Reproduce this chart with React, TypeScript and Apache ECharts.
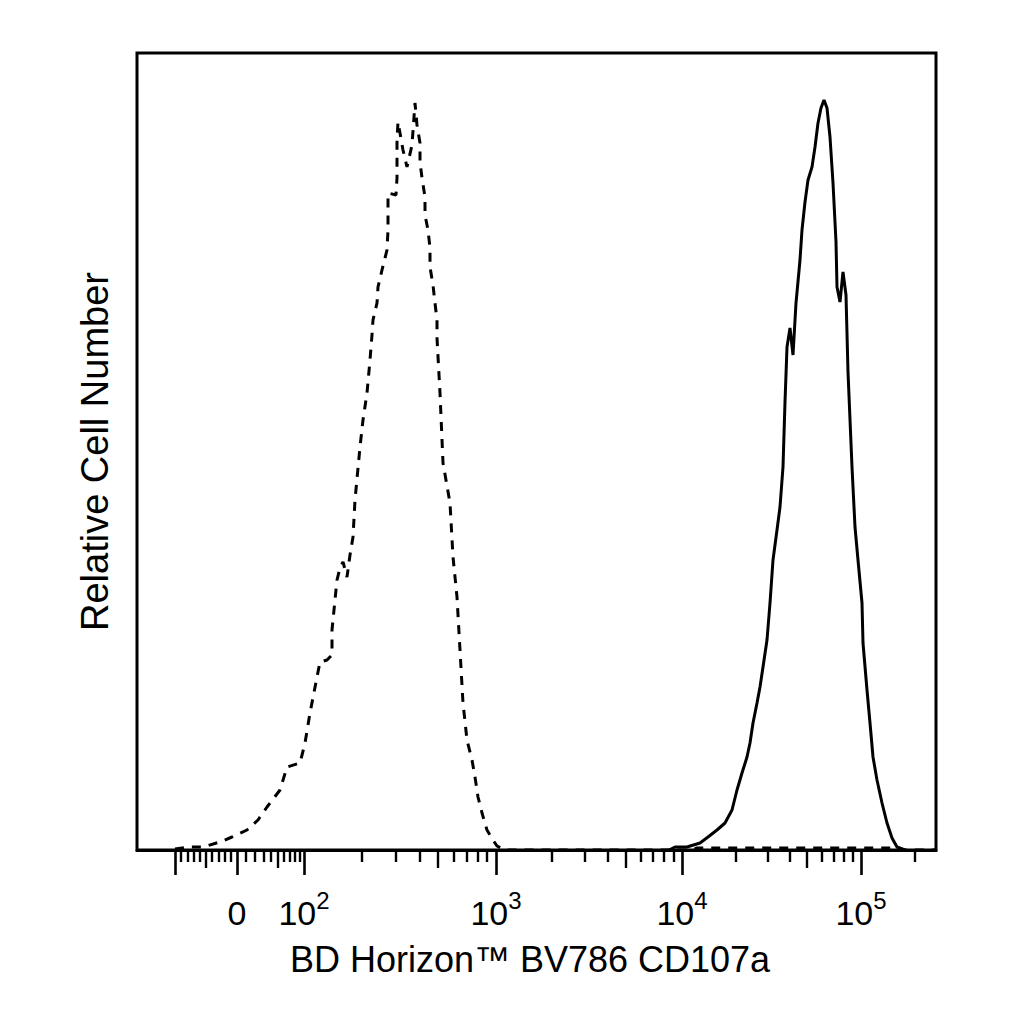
import * as echarts from 'echarts';
import React, { useEffect, useRef } from 'react';

const FONT = '"Liberation Sans", Arial, Helvetica, sans-serif';

// display channel (0..799) of the biexponential axis
const dashedChannel = [
  38, 53, 66, 83, 95, 110, 121, 130, 143, 150, 163, 168, 173, 180, 183, 190, 195, 195, 198, 200,
  203, 206, 210, 213, 216, 218, 223, 226, 230, 233, 235, 236, 240, 241, 245, 250, 251, 251, 251,
  259, 260, 260, 260, 261, 266, 270, 275, 278, 280, 283, 283, 285, 288, 288, 291, 293, 293, 296,
  298, 300, 300, 303, 306, 313, 316, 320, 323, 326, 330, 335, 338, 341, 345, 350, 356, 360, 368,
  555, 560, 761, 766, 799,
];
const dashedCount = [
  1, 3, 3, 8, 13, 20, 30, 43, 60, 83, 87, 107, 137, 173, 188, 190, 195, 220, 250, 270,
  282, 288, 273, 295, 313, 350, 403, 430, 457, 490, 515, 530, 547, 563, 580, 600, 620, 640, 657,
  655, 672, 692, 710, 728, 700, 683, 705, 747, 725, 707, 688, 672, 653, 635, 620, 602, 583, 565,
  547, 530, 512, 457, 387, 347, 293, 253, 200, 147, 110, 90, 73, 53, 37, 20, 10, 4, 0,
  0, 2, 2, 0, 0,
];

const solidChannel = [
  532, 538, 550, 563, 571, 580, 588, 595, 600, 605, 610, 613, 616, 620, 623, 626, 630, 633, 636,
  640, 643, 646, 648, 650, 653, 656, 659, 663, 665, 668, 671, 675, 678, 681, 684, 687, 690, 693,
  696, 699, 700, 703, 706, 709, 711, 715, 718, 721, 725, 726, 730, 733, 736, 740, 745, 750, 755,
  760, 768,
];
const solidCount = [
  0, 3, 3, 7, 13, 20, 27, 40, 60, 77, 93, 107, 127, 147, 163, 183, 210, 247, 290,
  320, 343, 383, 448, 503, 522, 495, 547, 590, 620, 648, 670, 683, 703, 727, 742, 750, 742, 713,
  667, 608, 563, 548, 578, 555, 478, 383, 323, 290, 247, 207, 160, 127, 93, 70, 47, 27, 12,
  3, 0,
];

// tick values in fluorescence units
const majorTicks = [-100, 0, 100, 1000, 10000, 100000];
const labeledTicks = [0, 100, 1000, 10000, 100000];
const tickLabels = ['0', '10|2', '10|3', '10|4', '10|5'];
const mediumTicks = [-50, 50, 500, 5000, 50000];
const minorTicks = [
  -90, -80, -70, -60, -40, -30, -20, -10, 10, 20, 30, 40, 60, 70, 80, 90,
  200, 300, 400, 600, 700, 800, 900,
  2000, 3000, 4000, 6000, 7000, 8000, 9000,
  20000, 30000, 40000, 60000, 70000, 80000, 90000,
  200000,
];

// decade anchors of the display scale
const decadeValues = [100, 1000, 10000, 100000, 1000000];
const decadeChannels = [167, 359, 545, 724, 903];

const toChannel = (v: number) => {
  if (v < 0) return 100 + (62 * v) / 100;
  if (v < 100) return 100 + (67 * Math.asinh((2 * v) / 100)) / Math.asinh(2);
  let i = 0;
  while (i < decadeValues.length - 2 && v >= decadeValues[i + 1]) i++;
  const f = Math.log10(v / decadeValues[i]);
  return decadeChannels[i] + f * (decadeChannels[i + 1] - decadeChannels[i]);
};

const X_MAX = 799;
const Y_MAX = 797;

const labelFor = (value: number) => {
  const idx = labeledTicks.findIndex((t) => Math.abs(toChannel(t) - value) < 0.01);
  if (idx < 0) return '';
  const [base, exp] = tickLabels[idx].split('|');
  return exp ? `{b|${base}}{s|${exp}}` : `{b|${base}}`;
};

const tickAxis = (values: number[], length: number) => ({
  type: 'value' as const,
  position: 'bottom' as const,
  min: 0,
  max: X_MAX,
  axisLine: { show: false },
  axisLabel: { show: false },
  splitLine: { show: false },
  axisTick: {
    show: true,
    customValues: values.map(toChannel),
    length,
    lineStyle: { color: '#000', width: 2.4 },
  },
});

export default function App() {
  const chartRef = useRef<HTMLDivElement>(null);

  useEffect(() => {
    if (!chartRef.current) return;
    const chart = echarts.init(chartRef.current, undefined, { renderer: 'svg' });

    chart.setOption({
      animation: false,
      backgroundColor: '#fff',
      grid: {
        left: 137,
        right: 88,
        top: 53,
        bottom: 174,
        show: true,
        borderColor: '#000',
        borderWidth: 3,
        backgroundColor: 'transparent',
        containLabel: false,
        outerBoundsMode: 'none',
      },
      xAxis: [
        {
          type: 'value',
          position: 'bottom',
          min: 0,
          max: X_MAX,
          name: 'BD Horizon™ BV786 CD107a',
          nameLocation: 'middle',
          nameGap: 91,
          nameTextStyle: {
            fontFamily: FONT,
            fontSize: 36,
            color: '#000',
            padding: [0, 13, 0, 0],
          },
          axisLine: { show: true, lineStyle: { color: '#000', width: 3 } },
          axisTick: {
            show: true,
            customValues: majorTicks.map(toChannel),
            length: 25,
            lineStyle: { color: '#000', width: 2.6 },
          },
          axisLabel: {
            show: true,
            customValues: labeledTicks.map(toChannel),
            margin: 38,
            fontFamily: FONT,
            fontSize: 34,
            color: '#000',
            formatter: (value: number) => labelFor(value),
            rich: {
              b: { fontFamily: FONT, fontSize: 34, lineHeight: 50, color: '#000' },
              s: { fontFamily: FONT, fontSize: 24, verticalAlign: 'top', color: '#000' },
            },
          },
          splitLine: { show: false },
        },
        tickAxis(mediumTicks, 18),
        tickAxis(minorTicks, 12),
      ],
      yAxis: {
        type: 'value',
        min: 0,
        max: Y_MAX,
        name: 'Relative Cell Number',
        nameLocation: 'middle',
        nameRotate: 90,
        nameGap: 23,
        nameTextStyle: { fontFamily: FONT, fontSize: 38, color: '#000' },
        axisLine: { show: false },
        axisTick: { show: false },
        axisLabel: { show: false },
        splitLine: { show: false },
      },
      series: [
        {
          name: 'isotype',
          type: 'line',
          xAxisIndex: 0,
          showSymbol: false,
          silent: true,
          data: dashedChannel.map((c, i) => [c, dashedCount[i]]),
          lineStyle: { color: '#000', width: 3, type: [9, 8] },
        },
        {
          name: 'CD107a',
          type: 'line',
          xAxisIndex: 0,
          showSymbol: false,
          silent: true,
          data: solidChannel.map((c, i) => [c, solidCount[i]]),
          lineStyle: { color: '#000', width: 3 },
        },
      ],
    });

    return () => {
      chart.dispose();
    };
  }, []);

  return (
    <div
      ref={chartRef}
      style={{ position: 'absolute', left: 0, top: 0, width: 1024, height: 1024, background: '#fff' }}
    />
  );
}
